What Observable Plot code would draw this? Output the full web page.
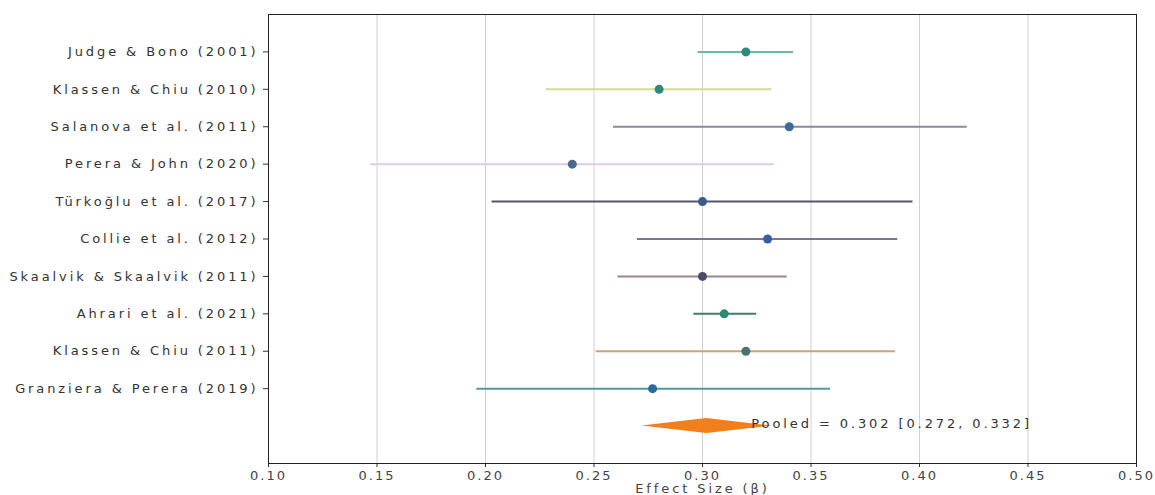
<!DOCTYPE html>
<html>
<head>
<meta charset="utf-8">
<script src="https://cdn.jsdelivr.net/npm/d3@7"></script>
<script src="https://cdn.jsdelivr.net/npm/@observablehq/plot@0.6"></script>
<style>
  html, body { margin: 0; padding: 0; background: #fff; }
  #chart svg { display: block; }
  #chart g[aria-label="x-axis tick label"] { letter-spacing: 2px; }
</style>
</head>
<body>
<div id="chart"></div>
<script>
const studies = [
  "Judge & Bono (2001)",
  "Klassen & Chiu (2010)",
  "Salanova et al. (2011)",
  "Perera & John (2020)",
  "Türkoğlu et al. (2017)",
  "Collie et al. (2012)",
  "Skaalvik & Skaalvik (2011)",
  "Ahrari et al. (2021)",
  "Klassen & Chiu (2011)",
  "Granziera & Perera (2019)"
];
const estimates = [0.32, 0.28, 0.34, 0.24, 0.30, 0.33, 0.30, 0.31, 0.32, 0.277];
const lower     = [0.298, 0.228, 0.259, 0.147, 0.203, 0.270, 0.261, 0.296, 0.251, 0.196];
const upper     = [0.342, 0.332, 0.422, 0.333, 0.397, 0.390, 0.339, 0.325, 0.389, 0.359];
const lineColors  = ["#6fb8ac", "#d6dc92", "#8d8a9c", "#e3c9de", "#55586a", "#7c7494", "#9c8494", "#3f7f6e", "#c9a678", "#4e9c9a"];
const pointColors = ["#2b8a78", "#2d8a7e", "#3b6c98", "#4a6a8c", "#3b5a8a", "#3b5ca2", "#4b4b6b", "#2c8a72", "#4b7272", "#2b6c9c"];

const pooledEst = 0.302, pooledLo = 0.272, pooledHi = 0.332;
const pooledLabel = "Pooled = 0.302 [0.272, 0.332]";
const xTicks = [0.10, 0.15, 0.20, 0.25, 0.30, 0.35, 0.40, 0.45, 0.50];

const rows = studies.map((s, i) => ({
  study: s, i, est: estimates[i], lo: lower[i], hi: upper[i],
  lc: lineColors[i], pc: pointColors[i]
}));
const pooledRow = studies.length;
const diamond = [
  {x: pooledLo, y1: pooledRow, y2: pooledRow},
  {x: pooledEst, y1: pooledRow - 0.2, y2: pooledRow + 0.2},
  {x: pooledHi, y1: pooledRow, y2: pooledRow}
];

const chart = Plot.plot({
  width: 1155,
  height: 495,
  marginTop: 14,
  marginBottom: 32,
  marginLeft: 268,
  marginRight: 19,
  style: {fontFamily: "DejaVu Sans", fontSize: "13px", letterSpacing: "2.9px", color: "#333", background: "#fff"},
  x: {domain: [0.10, 0.50]},
  y: {domain: [-1, pooledRow + 1], reverse: true},
  marks: [
    Plot.gridX(xTicks, {stroke: "#d0d0d0", strokeOpacity: 1}),
    Plot.axisX(xTicks, {tickFormat: d3.format(".2f"), tickSize: 4, tickPadding: 3, label: "Effect Size (β)", labelAnchor: "center", labelOffset: 29, labelArrow: "none", fill: "#444"}),
    Plot.axisY(d3.range(studies.length), {tickFormat: i => studies[i], tickSize: 5, tickPadding: 5, label: null, fill: "#333"}),
    Plot.ruleY(rows, {y: "i", x1: "lo", x2: "hi", stroke: d => d.lc, strokeWidth: 2}),
    Plot.dot(rows, {x: "est", y: "i", r: 4.5, fill: d => d.pc, stroke: "none"}),
    Plot.areaY(diamond, {x: "x", y1: "y1", y2: "y2", fill: "#f0801e", curve: "linear"}),
    Plot.text([pooledLabel], {x: pooledEst + 0.0205, y: pooledRow - 0.05, text: d => d, textAnchor: "start", fill: "#333"}),
    Plot.frame({stroke: "#222", strokeWidth: 1})
  ]
});
document.getElementById("chart").appendChild(chart);
</script>
</body>
</html>
